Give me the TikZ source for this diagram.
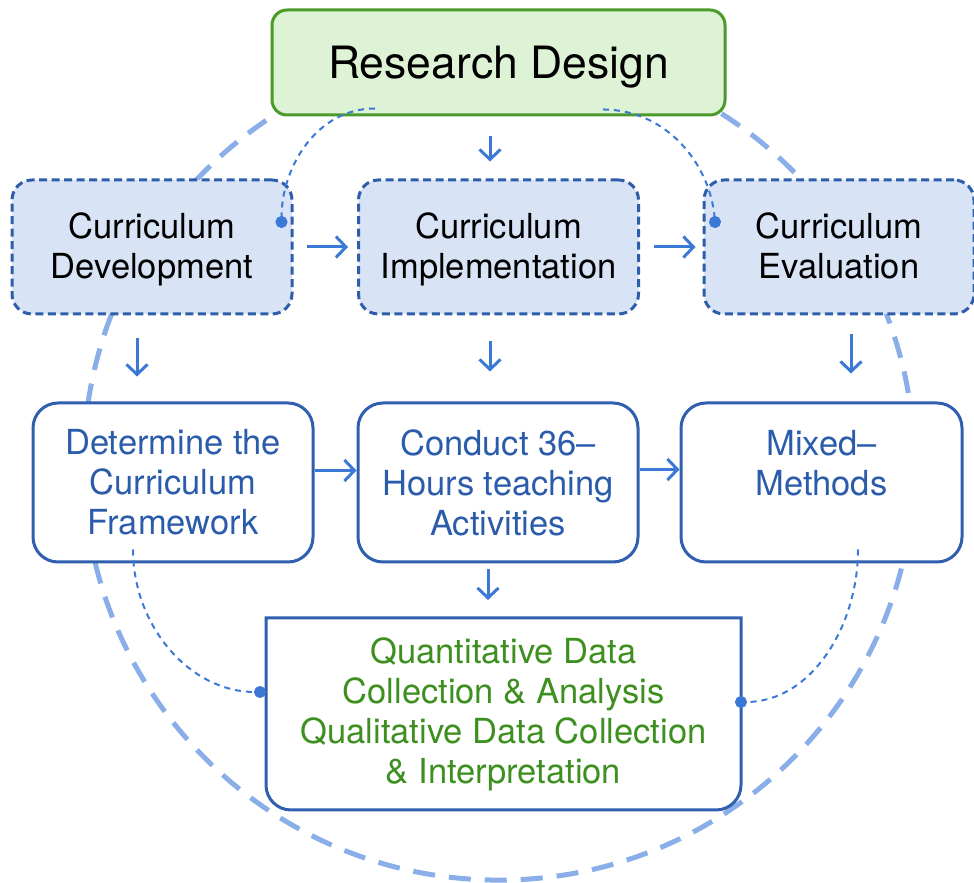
\documentclass[tikz,border=0pt]{standalone}
\usepackage{fontspec}
\setmainfont{TeX Gyre Heros}
\usepackage{tikz}
\usetikzlibrary{arrows.meta, calc, positioning}
\definecolor{designgreen}{HTML}{4B9A2C}
\definecolor{designfill}{HTML}{DEF2D6}
\definecolor{phaseblue}{HTML}{2E5DAA}
\definecolor{phasefill}{HTML}{D8E3F5}
\definecolor{boxblue}{HTML}{2F5FAE}
\definecolor{textblue}{HTML}{2B5CAB}
\definecolor{textgreen}{HTML}{3D8F1F}
\definecolor{arrowblue}{HTML}{3B79D6}
\definecolor{ringblue}{HTML}{8AAEE8}

\begin{document}
\begin{tikzpicture}[x=1pt, y=1pt,
        designbox/.style={
                rectangle,
                rounded corners=15pt,
                draw=designgreen, fill=designfill,
                line width=3pt,
                minimum width=453pt, minimum height=105pt,
                text depth=0pt,
                font=\fontsize{44.5}{50}\selectfont,
        },
        phasebox/.style={
                rectangle,
                rounded corners=20pt,
                draw=phaseblue, fill=phasefill,
                line width=3pt, dash pattern=on 8pt off 4.5pt,
                minimum width=280pt, minimum height=134pt,
                text depth=3pt,
                align=center, font=\fontsize{34.5}{40}\selectfont,
        },
        taskbox/.style={
                rectangle,
                rounded corners=25pt,
                draw=boxblue, fill=white,
                line width=3pt,
                minimum width=280pt, minimum height=159pt,
                align=center, text=textblue, font=\fontsize{34.5}{40}\selectfont,
        },
        databox/.style={
                rectangle,
                rounded corners=25pt, fill=white,
                minimum width=475pt, minimum height=192pt, outer sep=0pt,
                align=center, text=textgreen, font=\fontsize{34.5}{40}\selectfont,
        },
        flow/.style={-{Straight Barb[length=10pt, width=21pt]}, line width=3pt, draw=arrowblue},
        link/.style={-{Circle[length=12pt]}, line width=2pt, draw=arrowblue, dash pattern=on 6pt off 5pt},
        ring/.style={line width=5pt, draw=ringblue, dash pattern=on 22pt off 14pt}]
            \useasboundingbox (0,0) rectangle (974,883);
            % dashed ring behind everything
            \draw[ring] (499,418.4) circle[radius=415.5];

            \node[designbox] (design) at (498.5,820.5) {Research Design};
            \node[phasebox] (dev) at (152,636) {Curriculum\\Development};
            \node[phasebox] (impl) at (498.5,636) {Curriculum\\Implementation};
            \node[phasebox, minimum width=270pt] (eval) at (839,636) {Curriculum\\Evaluation};
            \node[taskbox] (frame) at (173,400.5) {Determine the\\Curriculum\\Framework};
            \node[taskbox] (teach) at (498,400.5) {Conduct 36–\\Hours teaching\\Activities};
            \node[taskbox, minimum width=281pt] (mixed) at (821.5,400.5) {Mixed–\\Methods\\\mbox{}};
            \node[databox] (data) at (503.5,169) {Quantitative Data\\Collection \& Analysis\\Qualitative Data Collection\\\& Interpretation};
            \draw[line width=3pt, draw=boxblue] (data.north west) -- ($(data.south west)+(0,25)$)
                arc[start angle=180, end angle=270, radius=25pt] -- ($(data.south east)+(-25,0)$)
                arc[start angle=270, end angle=360, radius=25pt] -- (data.north east) -- cycle;

            % arrows
            \draw[flow, shorten <=20pt, shorten >=17pt] ([xshift=-8.5pt]design.south) -- ([xshift=-8.5pt]impl.north);
            \draw[flow, shorten <=13pt, shorten >=9pt] (dev.east) -- (impl.west);
            \draw[flow, shorten <=14pt, shorten >=7pt] (impl.east) -- (eval.west);
            \draw[flow, shorten <=23pt, shorten >=25pt] ([xshift=-15pt]dev.south) -- ([xshift=-15pt]dev.south |- frame.north);
            \draw[flow, shorten <=26pt, shorten >=30pt] ([xshift=-8.5pt]impl.south) -- ([xshift=-8.5pt]impl.south |- teach.north);
            \draw[flow, shorten <=19pt, shorten >=28pt] ([xshift=12pt]eval.south) -- ([xshift=12pt]eval.south |- mixed.north);
            \draw[flow] ([yshift=12pt]frame.east) -- ([yshift=12pt]frame.east -| teach.west);
            \draw[flow] ([yshift=13pt]teach.east) -- ([yshift=13pt]teach.east -| mixed.west);
            \draw[flow, shorten <=6pt, shorten >=18pt] ([xshift=-10pt]teach.south) -- ([xshift=-10pt]teach.south |- data.north);

            % thin dashed links
            \draw[link] ($(design.south)+(-123.5,8)$) to[out=180, in=90] ($(dev.east)+(-12,19)$);
            \draw[link] ($(design.south)+(104.5,7)$) to[out=0, in=95] ($(eval.west)+(13,19)$);
            \draw[link] ($(frame.south)+(-40,14)$) to[out=270, in=180] ($(data.west)+(0,22)$);
            \draw[link] ($(mixed.south)+(36.5,14)$) to[out=270, in=0] ($(data.east)+(-6,12)$);
        \end{tikzpicture}
\end{document}
